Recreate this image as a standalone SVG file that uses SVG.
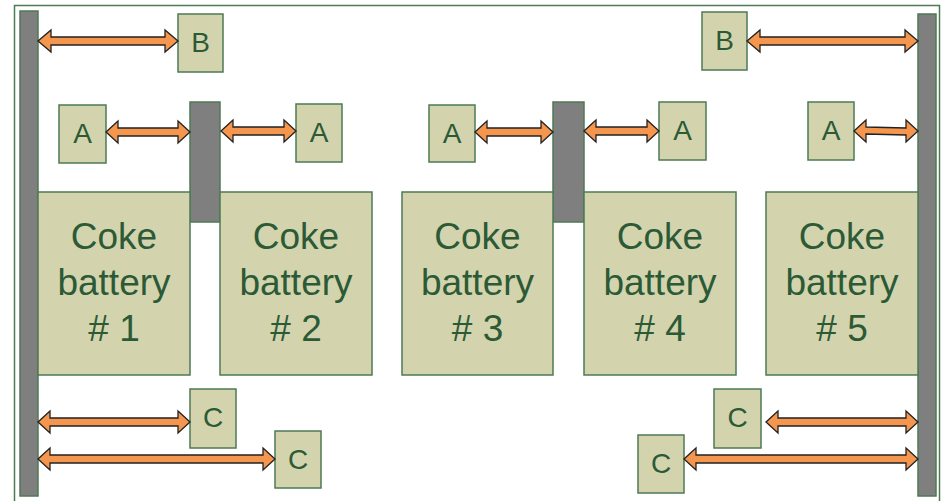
<svg xmlns="http://www.w3.org/2000/svg" width="942" height="501" viewBox="0 0 942 501">
<style>
.box{fill:#d3d4ad;stroke:#4d7a55;stroke-width:1.5}
.bar{fill:#7f7f7f;stroke:#4d7a55;stroke-width:1.5}
.arr{fill:#f4964e;stroke:#222;stroke-width:1.3;stroke-linejoin:miter}
.big{font-family:"Liberation Sans",Arial,sans-serif;font-size:37px;fill:#2c5a36;text-anchor:middle}
.lbl{font-family:"Liberation Sans",Arial,sans-serif;font-size:28px;fill:#2c5a36;text-anchor:middle}
</style>
<rect x="0" y="0" width="942" height="501" fill="#ffffff"/>
<rect x="14.5" y="5.5" width="925" height="510" fill="none" stroke="#4d7a55" stroke-width="1.5"/>
<g id="wall-left"><rect class="bar" x="20" y="11" width="18" height="485"/></g>
<g id="wall-right"><rect class="bar" x="918" y="14" width="18" height="482"/></g>
<g id="bar-1"><rect class="bar" x="190" y="102" width="30" height="120"/></g>
<g id="bar-2"><rect class="bar" x="553" y="102" width="31" height="120"/></g>
<g id="battery-1"><rect class="box" x="38" y="192" width="152" height="183"/><text class="big" x="114" y="249">Coke</text><text class="big" x="114" y="295">battery</text><text class="big" x="114" y="341"># 1</text></g>
<g id="battery-2"><rect class="box" x="220" y="192" width="152" height="183"/><text class="big" x="296" y="249">Coke</text><text class="big" x="296" y="295">battery</text><text class="big" x="296" y="341"># 2</text></g>
<g id="battery-3"><rect class="box" x="402" y="192" width="151" height="183"/><text class="big" x="477.5" y="249">Coke</text><text class="big" x="477.5" y="295">battery</text><text class="big" x="477.5" y="341"># 3</text></g>
<g id="battery-4"><rect class="box" x="584" y="192" width="152" height="183"/><text class="big" x="660" y="249">Coke</text><text class="big" x="660" y="295">battery</text><text class="big" x="660" y="341"># 4</text></g>
<g id="battery-5"><rect class="box" x="766" y="192" width="152" height="183"/><text class="big" x="842" y="249">Coke</text><text class="big" x="842" y="295">battery</text><text class="big" x="842" y="341"># 5</text></g>
<g id="B-left"><rect class="box" x="178" y="14" width="45" height="58"/><text class="lbl" x="200.5" y="52">B</text></g>
<g id="B-right"><rect class="box" x="702" y="12" width="45" height="58"/><text class="lbl" x="724.5" y="50">B</text></g>
<g id="A-1"><rect class="box" x="59" y="105" width="47" height="58"/><text class="lbl" x="82.5" y="143">A</text></g>
<g id="A-2"><rect class="box" x="296" y="104" width="46" height="58"/><text class="lbl" x="319" y="142">A</text></g>
<g id="A-3"><rect class="box" x="429" y="105" width="46" height="57"/><text class="lbl" x="452" y="143">A</text></g>
<g id="A-4"><rect class="box" x="659" y="102" width="47" height="58"/><text class="lbl" x="682.5" y="140">A</text></g>
<g id="A-5"><rect class="box" x="808" y="102" width="46" height="58"/><text class="lbl" x="831" y="140">A</text></g>
<g id="C-1"><rect class="box" x="190" y="389" width="46" height="59"/><text class="lbl" x="213" y="427">C</text></g>
<g id="C-2"><rect class="box" x="275" y="431" width="46" height="57"/><text class="lbl" x="298" y="469">C</text></g>
<g id="C-3"><rect class="box" x="714" y="389" width="47" height="59"/><text class="lbl" x="737.5" y="427">C</text></g>
<g id="C-4"><rect class="box" x="638" y="435" width="46" height="58"/><text class="lbl" x="661" y="473">C</text></g>
<g id="connectors">
<path class="arr" d="M38,41 L51,30 L51,37 L165,37 L165,30 L178,41 L165,52 L165,45 L51,45 L51,52 Z"/>
<path class="arr" d="M747,41 L760,30 L760,37 L905,37 L905,30 L918,41 L905,52 L905,45 L760,45 L760,52 Z"/>
<path class="arr" d="M106,132 L118,121 L118,128 L178,128 L178,121 L190,132 L178,143 L178,136 L118,136 L118,143 Z"/>
<path class="arr" d="M221,131 L233,120 L233,127 L284,127 L284,120 L296,131 L284,142 L284,135 L233,135 L233,142 Z"/>
<path class="arr" d="M475,132 L487,121 L487,128 L541,128 L541,121 L553,132 L541,143 L541,136 L487,136 L487,143 Z"/>
<path class="arr" d="M584,131 L596,120 L596,127 L647,127 L647,120 L659,131 L647,142 L647,135 L596,135 L596,142 Z"/>
<path class="arr" d="M854,131 L866,120 L866,127 L906,128 L906,120 L918,131 L906,142 L906,135 L866,134 L866,142 Z"/>
<path class="arr" d="M38,422 L50,411 L50,418 L178,418 L178,411 L190,422 L178,433 L178,426 L50,426 L50,433 Z"/>
<path class="arr" d="M38,459 L50,448 L50,455 L263,455 L263,448 L275,459 L263,470 L263,463 L50,463 L50,470 Z"/>
<path class="arr" d="M766,422 L778,411 L778,418 L906,418 L906,411 L918,422 L906,433 L906,426 L778,426 L778,433 Z"/>
<path class="arr" d="M684,459 L696,448 L696,455 L906,455 L906,448 L918,459 L906,470 L906,463 L696,463 L696,470 Z"/>
</g>
</svg>
